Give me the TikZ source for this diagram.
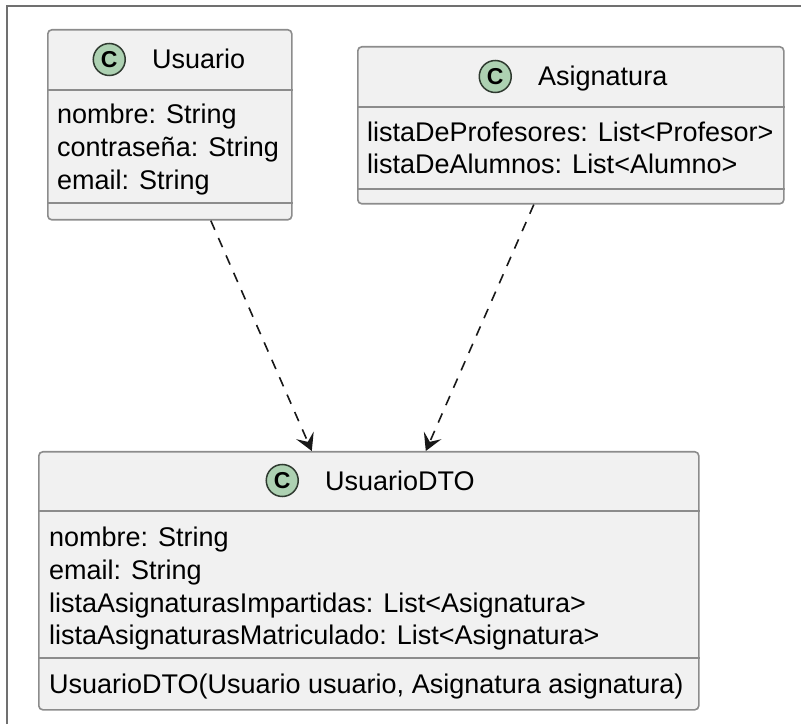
\documentclass[tikz,border=0pt]{standalone}
\usepackage{fontspec}
\setmainfont{Liberation Sans}
\usetikzlibrary{arrows.meta,positioning}

\definecolor{classfill}{HTML}{F1F1F1}
\definecolor{classline}{HTML}{8C8C8C}
\definecolor{spotfill}{HTML}{ADD1B2}
\definecolor{spotline}{HTML}{2F3A30}
\definecolor{linkline}{HTML}{181818}
\definecolor{frameline}{HTML}{707070}

\begin{document}
\begin{tikzpicture}[
    x=1pt, y=1pt,
    every node/.style={font=\fontsize{27}{33}\selectfont},
    classbox/.style={rectangle, draw=classline, fill=classfill, line width=1.6pt, rounded corners=4pt, anchor=north west, inner sep=0pt},
    classtitle/.style={anchor=base west, inner sep=0pt, text height=19pt, text depth=0pt},
    spot/.style={circle, draw=spotline, fill=spotfill, line width=1.5pt, minimum size=32pt, inner sep=0pt, font=\fontsize{23}{23}\selectfont\bfseries},
    member/.style={anchor=base west, inner sep=0pt},
    divider/.style={draw=classline, line width=1.6pt},
    depends/.style={draw=linkline, line width=1.6pt, dash pattern=on 10pt off 9pt, -{Stealth[length=17pt, width=19pt, inset=7pt]}}
]
    \useasboundingbox (0,0) rectangle (801,724);
    \draw[frameline, line width=2pt] (7,0) -- (7,718) -- (801,718);

    % Usuario
    \node[classbox, minimum width=244pt, minimum height=190pt] (usuario) at (47,695) {};
    \draw[divider] ([yshift=-61pt]usuario.north west) -- ([yshift=-61pt]usuario.north east);
    \draw[divider] ([yshift=-174pt]usuario.north west) -- ([yshift=-174pt]usuario.north east);
    \node[classtitle] (u-title) at (152,655) {Usuario};
    \node[spot, left=26pt of u-title] (u-spot) {C};
    \node[member] (u-nombre) at (57,600) {nombre: String};
    \node[member] (u-pass) at (57,567) {contraseña: String};
    \node[member] (u-email) at (57,534) {email: String};

    % Asignatura
    \node[classbox, minimum width=426pt, minimum height=157pt] (asig) at (357,678) {};
    \draw[divider] ([yshift=-61pt]asig.north west) -- ([yshift=-61pt]asig.north east);
    \draw[divider] ([yshift=-143pt]asig.north west) -- ([yshift=-143pt]asig.north east);
    \node[classtitle] (a-title) at (538,638) {Asignatura};
    \node[spot, left=26pt of a-title] (a-spot) {C};
    \node[member] (a-prof) at (367,582) {listaDeProfesores: List<Profesor>};
    \node[member] (a-alum) at (367,550) {listaDeAlumnos: List<Alumno>};

    % UsuarioDTO
    \node[classbox, minimum width=660pt, minimum height=258pt] (dto) at (38,273) {};
    \draw[divider] ([yshift=-60pt]dto.north west) -- ([yshift=-60pt]dto.north east);
    \draw[divider] ([yshift=-207pt]dto.north west) -- ([yshift=-207pt]dto.north east);
    \node[classtitle] (d-title) at (325,234) {UsuarioDTO};
    \node[spot, left=26pt of d-title] (d-spot) {C};
    \node[member] (d-nombre) at (49,178) {nombre: String};
    \node[member] (d-email) at (49,145) {email: String};
    \node[member] (d-imp) at (49,112) {listaAsignaturasImpartidas: List<Asignatura>};
    \node[member] (d-mat) at (49,80) {listaAsignaturasMatriculado: List<Asignatura>};
    \node[member] (d-ctor) at (49,31) {UsuarioDTO(Usuario usuario, Asignatura asignatura)};

    \draw[depends] ([xshift=41pt]usuario.south) -- ([xshift=-57pt]dto.north);
    \draw[depends] ([xshift=-37pt]asig.south) -- ([xshift=57pt]dto.north);
\end{tikzpicture}
\end{document}
